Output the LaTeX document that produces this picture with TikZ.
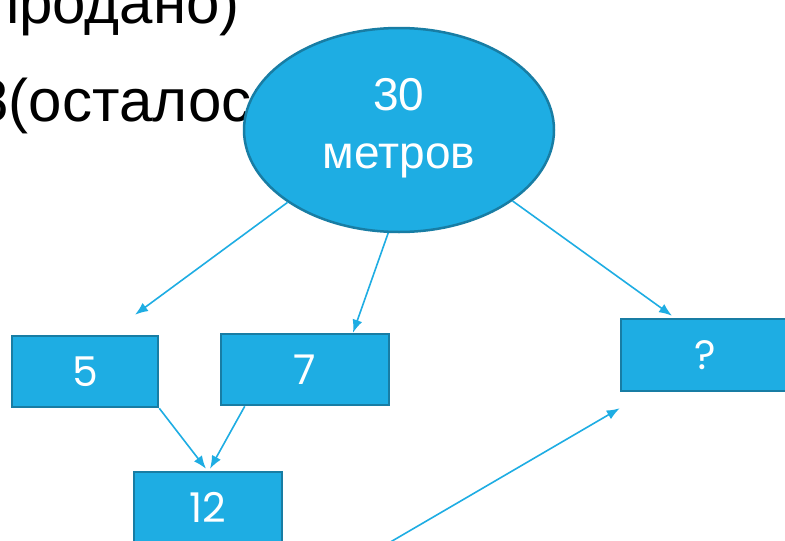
\documentclass[tikz,border=0pt]{standalone}
\usepackage{fontspec}
\setmainfont{Liberation Sans}
\newfontfamily\gothic{Poppins}
\usepackage{tikz}
\usetikzlibrary{shapes,arrows.meta,positioning}
\definecolor{sky}{RGB}{30,173,227}
\definecolor{deepsky}{RGB}{24,125,164}
\tikzstyle{cloud} = [ellipse, draw=deepsky, line width=2.5pt, fill=sky, text=white, align=center, font=\fontsize{46}{58}\selectfont, text depth=14pt, minimum width=310pt, minimum height=204pt, inner sep=0pt]
\tikzstyle{numbox} = [rectangle, draw=deepsky, line width=2.5pt, fill=sky, text=white, font=\gothic\fontsize{41}{48}\selectfont, minimum height=71pt, inner sep=0pt]
\tikzstyle{textonly} = [draw=none, fill=none, text=black, font=\fontsize{60}{72}\selectfont, inner sep=0pt]
\tikzstyle{tedge}  = [draw=sky, line width=1.6pt, >={Latex[length=13pt,width=10pt]}, ->]

\begin{document}
\begin{tikzpicture}[x=1pt, y=-1pt]
\useasboundingbox[fill=white] (0,0) rectangle (785,541);

% slide text behind the ellipse =============================
\node[textonly, anchor=base east] (sold) at (240,23) {12(продано)};
\node[textonly, anchor=base west] (left) at (-58,121) {18(осталось)};

% nodes =============================
\node[cloud] (whole) at (399,130) {30\\метров};
\node[numbox, minimum width=146pt] (five) at (85,371.5) {5};
\node[numbox, minimum width=168pt] (seven) at (305,369.5) {7};
\node[numbox, minimum width=148pt] (twelve) at (208,507.5) {12};
\node[numbox, minimum width=168pt, minimum height=72pt] (unknown) at (705,355) {?};
\coordinate (below) at (375,551);

% edges
\path[tedge] (whole.213) -- ([xshift=50pt,yshift=20pt]five.north);
\path[tedge] (whole.264) -- ([xshift=48pt]seven.north);
\path[tedge] (whole.328) -- ([xshift=-33pt,yshift=2pt]unknown.north);
\path[tedge] (five.south east) -- ([xshift=-2pt,yshift=2pt]twelve.north);
\path[tedge] ([xshift=25pt]seven.south west) -- ([xshift=2pt,yshift=2pt]twelve.north);
\path[tedge] (below) -- ([yshift=-16pt]unknown.south west);

\end{tikzpicture}
\end{document}
